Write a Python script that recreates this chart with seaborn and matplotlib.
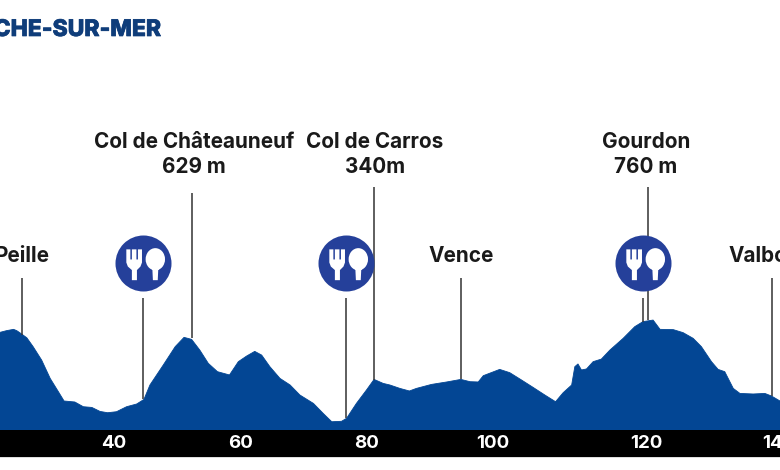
import matplotlib
matplotlib.use("Agg")
import matplotlib.pyplot as plt
import matplotlib.patheffects as pe
from matplotlib.path import Path
from matplotlib.patches import Rectangle
from matplotlib.transforms import Affine2D
import seaborn as sns
import pandas as pd

# profile
km = [21.95, 23.0, 24.1, 24.6, 25.2, 26.2, 27.2, 28.55, 29.9, 31.2, 32.1, 33.8, 35.15, 36.5, 37.8, 39.0,
      40.4, 42.0, 43.6, 44.75, 45.7, 47.8, 49.7, 51.1, 52.3, 53.6, 54.95, 56.4, 58.3, 59.7, 61.0, 62.3,
      63.4, 64.7, 66.3, 67.9, 69.45, 71.6, 73.15, 74.5, 76.05, 76.85, 78.4, 80.0, 81.2, 82.65, 83.7,
      85.3, 86.8, 87.9, 90.3, 92.7, 94.95, 96.4, 97.7, 98.5, 101.1, 102.7, 104.55, 106.4, 108.25, 109.95,
      111.15, 112.5, 113.0, 113.5, 114.05, 114.85, 115.9, 117.2, 118.55, 120.65, 122.5, 123.8, 125.4,
      126.5, 128.6, 130.15, 131.75, 133.05, 134.65, 135.7, 136.75, 138.1, 139.15, 141.25, 143.1, 144.15, 145.5]
elev = [673, 685, 694, 685, 667, 635, 573, 479, 351, 258, 193, 186, 153, 148, 120, 111,
        118, 153, 172, 204, 305, 444, 573, 638, 624, 549, 456, 398, 375, 468, 507, 540,
        514, 433, 351, 305, 235, 176, 106, 48, 51, 72, 176, 270, 344, 316, 305,
        281, 263, 281, 309, 326, 344, 328, 326, 370, 414, 391, 340, 288, 235, 188,
        251, 305, 433, 452, 410, 417, 468, 486, 549, 631, 713, 748, 759,
        694, 692, 671, 631, 573, 468, 414, 398, 281, 246, 242, 246, 228, 193]

tick_pos = [40, 60, 80, 100, 124.3, 145.3]
tick_labels = ["40", "60", "80", "100", "120", "140"]

place_names = ["Peille", "Col de Châteauneuf\n629 m", "Col de Carros\n340m", "Vence", "Gourdon\n760 m", "Valbonne"]
place_text_km = [25.43, 52.67, 81.33, 94.95, 124.25, 145.0]
place_text_m = [1207, 1919, 1919, 1207, 1919, 1207]
place_km = [25.43, 52.35, 81.2, 94.95, 124.56, 144.2]
place_top = [1053, 1647, 1689, 1053, 1689, 1053]
place_bottom = [654, 634, 340, 344, 760, 228]

feed_km = [44.6, 76.75, 123.8]
feed_top = [913, 913, 913]
feed_bottom = [204, 72, 748]
feed_icon_m = [1158, 1158, 1158]

BLUE = "#034694"
ICON = "#25409a"
LINE = "#333333"

sns.set_theme(style="white")
plt.rcParams["font.family"] = ["Inter", "DejaVu Sans"]

df = pd.DataFrame({"km": km, "elev": elev})

fig = plt.figure(figsize=(7.8, 4.7), dpi=100)
ax = fig.add_axes([0, 40 / 470, 1, 430 / 470])

# black km band under the profile
fig.patches.append(Rectangle((0, 13 / 470), 1, 27 / 470, transform=fig.transFigure, color="black", lw=0, zorder=-1))
fig.patches.append(Rectangle((0, 12 / 470), 1, 1 / 470, transform=fig.transFigure, color="#dddddd", lw=0, zorder=-1))
ax.patch.set_alpha(0)

sns.lineplot(data=df, x="km", y="elev", color=BLUE, lw=0.6, ax=ax)
ax.fill_between(km, elev, -9.8, color=BLUE, lw=0)

ax.vlines(place_km, place_bottom, place_top, color=LINE, lw=1.1)
ax.vlines(feed_km, feed_bottom, feed_top, color=LINE, lw=1.1)

for name, x, y in zip(place_names, place_text_km, place_text_m):
    ax.text(x, y, name, ha="center", va="center", fontsize=14.9, fontweight="bold",
            color="#1a1a1a", linespacing=1.3)


def fork_spoon():
    # icon outline in pixels around the circle centre
    fork = [(-17, 14), (-13, 14), (-13, 4), (-11.5, 4), (-11.5, 14), (-7, 14), (-7, 4), (-5.5, 4),
            (-5.5, 14), (-1.5, 14), (-1.5, 1), (-3, -3), (-6.5, -6.5),
            (-6.5, -16.5), (-11.5, -16.5), (-11.5, -6.5), (-15.5, -3), (-17, 1), (-17, 14)]
    codes = [Path.MOVETO] + [Path.LINETO] * (len(fork) - 2) + [Path.CLOSEPOLY]
    bowl = Path.unit_circle().transformed(Affine2D().scale(9.6, 11).translate(11.7, 4.2))
    stem = Path([(8.7, -4), (9.3, -16.5), (14.1, -16.5), (14.7, -4), (8.7, -4)],
                [Path.MOVETO, Path.LINETO, Path.LINETO, Path.LINETO, Path.CLOSEPOLY])
    return Path.make_compound_path(Path(fork, codes), bowl, stem)


ax.scatter(feed_km, feed_icon_m, s=1626, color=ICON, lw=0, zorder=3)
ax.scatter(feed_km, feed_icon_m, s=960, marker=fork_spoon(), color="white", lw=0, zorder=4)

ax.set_xlim(21.95, 145.5)
ax.set_ylim(-9.8, 2997)
ax.set_xticks(tick_pos)
ax.set_xticklabels(tick_labels)
ax.set_yticks([])
ax.set_xlabel("")
ax.set_ylabel("")
ax.tick_params(axis="x", length=0, pad=3.5, labelsize=13.5, labelcolor="white")
for label in ax.get_xticklabels():
    label.set_fontweight("bold")
    label.set_clip_on(False)
sns.despine(ax=ax, left=True, bottom=True)

title = fig.text(160 / 780, 1 - 30 / 470, "VILLEFRANCHE-SUR-MER", ha="right", va="center",
                 fontsize=16.5, fontweight="heavy", color="#0f3d7a")
title.set_path_effects([pe.withStroke(linewidth=0.5, foreground="#0f3d7a")])

fig.savefig("out.png", dpi=100)
